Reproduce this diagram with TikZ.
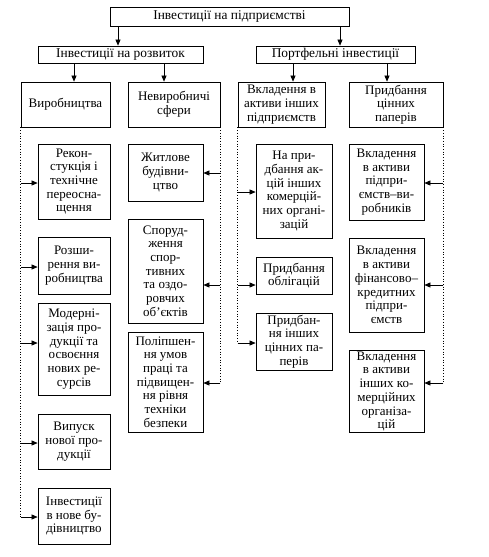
\documentclass[tikz,border=0pt]{standalone}
\usepackage{fontspec}
\setmainfont{Liberation Serif}
\usetikzlibrary{arrows.meta,calc}
\begin{document}
\begin{tikzpicture}[x=1pt,y=-1pt,
  box/.style={draw,line width=0.8pt,inner sep=1pt,align=center,font=\fontsize{13}{13.7}\selectfont},
  hbox/.style={box,font=\fontsize{13.4}{14}\selectfont},
  arr/.style={line width=0.6pt,-{Triangle[length=6pt,width=5pt]}},
  trunk/.style={line width=0.7pt,dotted}]
\useasboundingbox (0,0) rectangle (488,557);
% level 1
\node[hbox,minimum width=239,minimum height=19] (top) at (229.5,16.5) {Інвестиції на підприємстві};
% level 2
\node[hbox,minimum width=165,minimum height=17] (inv) at (120.5,54.5) {Інвестиції на розвиток};
\node[hbox,minimum width=159,minimum height=17] (port) at (335.5,54.5) {Портфельні інвестиції};
% level 3
\node[box,minimum width=89,minimum height=45] (vyr) at (65.5,104.5) {Виробництва};
\node[box,minimum width=92,minimum height=45] (nev) at (174,104.5) {Невиробничі\\сфери};
\node[box,minimum width=87,minimum height=45] (vkl) at (281.5,104.5) {Вкладення в\\активи інших\\підприємств};
\node[box,minimum width=94,minimum height=45] (prid) at (396,104.5) {Придбання\\цінних\\паперів};
% column 1
\node[box,minimum width=72,minimum height=75] (r1) at (74,181.5) {Рекон-\\стукція і\\технічне\\переосна-\\щення};
\node[box,minimum width=72,minimum height=57] (r2) at (74,265.5) {Розши-\\рення ви-\\робництва};
\node[box,minimum width=72,minimum height=92] (r3) at (74,349) {Модерні-\\зація про-\\дукції та\\освоєння\\нових ре-\\сурсів};
\node[box,minimum width=72,minimum height=55] (r4) at (74,441.5) {Випуск\\нової про-\\дукції};
\node[box,minimum width=72,minimum height=56] (r5) at (74,516) {Інвестиції\\в нове бу-\\дівництво};
% column 2
\node[box,minimum width=75,minimum height=57] (n1) at (165.5,172.5) {Житлове\\будівни-\\цтво};
\node[box,minimum width=75,minimum height=104] (n2) at (165.5,271) {Споруд-\\ження\\спор-\\тивних\\та оздо-\\ровчих\\об’єктів};
\node[box,minimum width=75,minimum height=100] (n3) at (165.5,382) {Поліпшен-\\ня умов\\праці та\\підвищен-\\ня рівня\\техніки\\безпеки};
% column 3
\node[box,minimum width=76,minimum height=94] (p1) at (294,191) {На при-\\дбання ак-\\цій інших\\комерцій-\\них органі-\\зацій};
\node[box,minimum width=76,minimum height=37] (p2) at (294,275.5) {Придбання\\облігацій};
\node[box,minimum width=76,minimum height=57] (p3) at (294,341.5) {Придбан-\\ня інших\\цінних па-\\перів};
% column 4
\node[box,minimum width=75,minimum height=76] (c1) at (386.5,182) {Вкладення\\в активи\\підпри-\\ємств–ви-\\робників};
\node[box,minimum width=75,minimum height=94] (c2) at (386.5,285) {Вкладення\\в активи\\фінансово–\\кредитних\\підпри-\\ємств};
\node[box,minimum width=75,minimum height=81] (c3) at (386.5,391.5) {Вкладення\\в активи\\інших ко-\\мерційних\\організа-\\цій};
% arrows level 1 -> 2
\coordinate (t1) at ($(inv.north)+(-2.5,0)$);
\coordinate (t2) at ($(port.north)+(4.5,0)$);
\draw[arr] (t1 |- top.south) -- (t1);
\draw[arr] (t2 |- top.south) -- (t2);
% arrows level 2 -> 3
\coordinate (s1) at ($(vyr.north)+(8.5,0)$);
\coordinate (s2) at ($(nev.north)+(-10,0)$);
\coordinate (s3) at ($(vkl.north)+(11.5,0)$);
\coordinate (s4) at ($(prid.north)+(-9,0)$);
\draw[arr] (s1 |- inv.south) -- (s1);
\draw[arr] (s2 |- inv.south) -- (s2);
\draw[arr] (s3 |- port.south) -- (s3);
\draw[arr] (s4 |- port.south) -- (s4);
% arrow target points
\coordinate (ar1) at ($(r1.west)+(0,1.5)$);
\coordinate (ar2) at ($(r2.west)+(0,1.5)$);
\coordinate (ar3) at ($(r3.west)+(0,-6)$);
\coordinate (ar4) at ($(r4.west)+(0,1.5)$);
\coordinate (ar5) at ($(r5.west)+(0,1)$);
\coordinate (an1) at ($(n1.east)+(0,0.5)$);
\coordinate (an2) at ($(n2.east)+(0,14)$);
\coordinate (an3) at ($(n3.east)+(0,1)$);
\coordinate (ap1) at ($(p1.west)+(0,1)$);
\coordinate (ap2) at ($(p2.west)+(0,9.5)$);
\coordinate (ap3) at ($(p3.west)+(0,1.5)$);
\coordinate (ac1) at ($(c1.east)+(0,1)$);
\coordinate (ac2) at ($(c2.east)+(0,0)$);
\coordinate (ac3) at ($(c3.east)+(0,-8.5)$);
% trunks
\draw[trunk] (vyr.south west) -- (vyr.south west |- ar5);
\draw[trunk] (nev.south east) -- (nev.south east |- an3);
\draw[trunk] (vkl.south west) -- (vkl.south west |- ap3);
\draw[trunk] (prid.south east) -- (prid.south east |- ac3);
% branches
\foreach \a in {ar1,ar2,ar3,ar4,ar5} \draw[arr] (vyr.south west |- \a) -- (\a);
\foreach \a in {an1,an2,an3} \draw[arr] (nev.south east |- \a) -- (\a);
\foreach \a in {ap1,ap2,ap3} \draw[arr] (vkl.south west |- \a) -- (\a);
\foreach \a in {ac1,ac2,ac3} \draw[arr] (prid.south east |- \a) -- (\a);
\end{tikzpicture}
\end{document}
